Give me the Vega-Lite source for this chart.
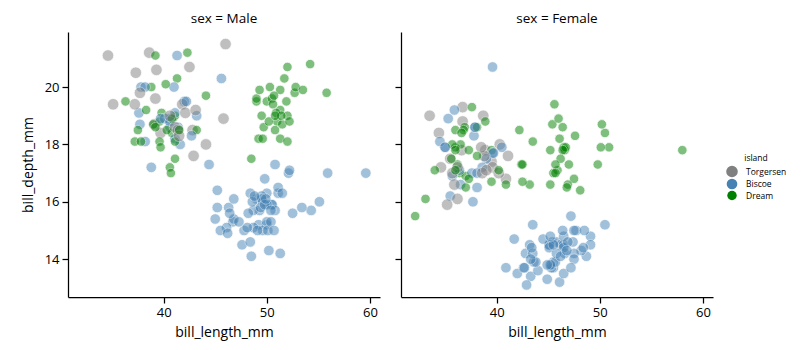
{
"$schema": "https://vega.github.io/schema/vega-lite/v6.json",
"background": "white",
"padding": {"left": 21, "top": 11, "right": 5, "bottom": 5},
"spacing": 21,
"bounds": "flush",
"data": {"values": [
{"island":"Torgersen","sex":"Male","bill_length_mm":39.1,"bill_depth_mm":18.7},
{"island":"Torgersen","sex":"Female","bill_length_mm":39.5,"bill_depth_mm":17.4},
{"island":"Torgersen","sex":"Female","bill_length_mm":40.3,"bill_depth_mm":18.0},
{"island":"Torgersen","sex":"Female","bill_length_mm":36.7,"bill_depth_mm":19.3},
{"island":"Torgersen","sex":"Male","bill_length_mm":39.3,"bill_depth_mm":20.6},
{"island":"Torgersen","sex":"Female","bill_length_mm":38.9,"bill_depth_mm":17.8},
{"island":"Torgersen","sex":"Male","bill_length_mm":39.2,"bill_depth_mm":19.6},
{"island":"Torgersen","sex":"Female","bill_length_mm":41.1,"bill_depth_mm":17.6},
{"island":"Torgersen","sex":"Male","bill_length_mm":38.6,"bill_depth_mm":21.2},
{"island":"Torgersen","sex":"Male","bill_length_mm":34.6,"bill_depth_mm":21.1},
{"island":"Torgersen","sex":"Female","bill_length_mm":36.6,"bill_depth_mm":17.8},
{"island":"Torgersen","sex":"Female","bill_length_mm":38.7,"bill_depth_mm":19.0},
{"island":"Torgersen","sex":"Male","bill_length_mm":42.5,"bill_depth_mm":20.7},
{"island":"Torgersen","sex":"Female","bill_length_mm":34.4,"bill_depth_mm":18.4},
{"island":"Torgersen","sex":"Male","bill_length_mm":46.0,"bill_depth_mm":21.5},
{"island":"Biscoe","sex":"Female","bill_length_mm":37.8,"bill_depth_mm":18.3},
{"island":"Biscoe","sex":"Male","bill_length_mm":37.7,"bill_depth_mm":18.7},
{"island":"Biscoe","sex":"Female","bill_length_mm":35.9,"bill_depth_mm":19.2},
{"island":"Biscoe","sex":"Male","bill_length_mm":38.2,"bill_depth_mm":18.1},
{"island":"Biscoe","sex":"Male","bill_length_mm":38.8,"bill_depth_mm":17.2},
{"island":"Biscoe","sex":"Female","bill_length_mm":35.3,"bill_depth_mm":18.9},
{"island":"Biscoe","sex":"Male","bill_length_mm":40.6,"bill_depth_mm":18.6},
{"island":"Biscoe","sex":"Female","bill_length_mm":40.5,"bill_depth_mm":17.9},
{"island":"Biscoe","sex":"Female","bill_length_mm":37.9,"bill_depth_mm":18.6},
{"island":"Biscoe","sex":"Male","bill_length_mm":40.5,"bill_depth_mm":18.9},
{"island":"Dream","sex":"Female","bill_length_mm":39.5,"bill_depth_mm":16.7},
{"island":"Dream","sex":"Male","bill_length_mm":37.2,"bill_depth_mm":18.1},
{"island":"Dream","sex":"Female","bill_length_mm":39.5,"bill_depth_mm":17.8},
{"island":"Dream","sex":"Male","bill_length_mm":40.9,"bill_depth_mm":18.9},
{"island":"Dream","sex":"Female","bill_length_mm":36.4,"bill_depth_mm":17.0},
{"island":"Dream","sex":"Male","bill_length_mm":39.2,"bill_depth_mm":21.1},
{"island":"Dream","sex":"Male","bill_length_mm":38.8,"bill_depth_mm":20.0},
{"island":"Dream","sex":"Female","bill_length_mm":42.2,"bill_depth_mm":18.5},
{"island":"Dream","sex":"Female","bill_length_mm":37.6,"bill_depth_mm":19.3},
{"island":"Dream","sex":"Male","bill_length_mm":39.8,"bill_depth_mm":19.1},
{"island":"Dream","sex":"Female","bill_length_mm":36.5,"bill_depth_mm":18.0},
{"island":"Dream","sex":"Male","bill_length_mm":40.8,"bill_depth_mm":18.4},
{"island":"Dream","sex":"Female","bill_length_mm":36.0,"bill_depth_mm":18.5},
{"island":"Dream","sex":"Male","bill_length_mm":44.1,"bill_depth_mm":19.7},
{"island":"Dream","sex":"Female","bill_length_mm":37.0,"bill_depth_mm":16.9},
{"island":"Dream","sex":"Male","bill_length_mm":39.6,"bill_depth_mm":18.8},
{"island":"Dream","sex":"Male","bill_length_mm":41.1,"bill_depth_mm":19.0},
{"island":"Dream","sex":"Female","bill_length_mm":36.0,"bill_depth_mm":17.9},
{"island":"Dream","sex":"Male","bill_length_mm":42.3,"bill_depth_mm":21.2},
{"island":"Biscoe","sex":"Female","bill_length_mm":39.6,"bill_depth_mm":17.7},
{"island":"Biscoe","sex":"Male","bill_length_mm":40.1,"bill_depth_mm":18.9},
{"island":"Biscoe","sex":"Female","bill_length_mm":35.0,"bill_depth_mm":17.9},
{"island":"Biscoe","sex":"Male","bill_length_mm":42.0,"bill_depth_mm":19.5},
{"island":"Biscoe","sex":"Female","bill_length_mm":34.5,"bill_depth_mm":18.1},
{"island":"Biscoe","sex":"Male","bill_length_mm":41.4,"bill_depth_mm":18.6},
{"island":"Biscoe","sex":"Female","bill_length_mm":39.0,"bill_depth_mm":17.5},
{"island":"Biscoe","sex":"Male","bill_length_mm":40.6,"bill_depth_mm":18.8},
{"island":"Biscoe","sex":"Female","bill_length_mm":36.5,"bill_depth_mm":16.6},
{"island":"Biscoe","sex":"Male","bill_length_mm":37.6,"bill_depth_mm":19.1},
{"island":"Biscoe","sex":"Female","bill_length_mm":35.7,"bill_depth_mm":16.9},
{"island":"Biscoe","sex":"Male","bill_length_mm":41.3,"bill_depth_mm":21.1},
{"island":"Biscoe","sex":"Female","bill_length_mm":37.6,"bill_depth_mm":17.0},
{"island":"Biscoe","sex":"Male","bill_length_mm":41.1,"bill_depth_mm":18.2},
{"island":"Biscoe","sex":"Female","bill_length_mm":36.4,"bill_depth_mm":17.1},
{"island":"Biscoe","sex":"Male","bill_length_mm":41.6,"bill_depth_mm":18.0},
{"island":"Biscoe","sex":"Female","bill_length_mm":35.5,"bill_depth_mm":16.2},
{"island":"Biscoe","sex":"Male","bill_length_mm":41.1,"bill_depth_mm":19.1},
{"island":"Torgersen","sex":"Female","bill_length_mm":35.9,"bill_depth_mm":16.6},
{"island":"Torgersen","sex":"Male","bill_length_mm":41.8,"bill_depth_mm":19.4},
{"island":"Torgersen","sex":"Female","bill_length_mm":33.5,"bill_depth_mm":19.0},
{"island":"Torgersen","sex":"Male","bill_length_mm":39.7,"bill_depth_mm":18.4},
{"island":"Torgersen","sex":"Female","bill_length_mm":39.6,"bill_depth_mm":17.2},
{"island":"Torgersen","sex":"Male","bill_length_mm":45.8,"bill_depth_mm":18.9},
{"island":"Torgersen","sex":"Female","bill_length_mm":35.5,"bill_depth_mm":17.5},
{"island":"Torgersen","sex":"Male","bill_length_mm":42.8,"bill_depth_mm":18.5},
{"island":"Torgersen","sex":"Female","bill_length_mm":40.9,"bill_depth_mm":16.8},
{"island":"Torgersen","sex":"Male","bill_length_mm":37.2,"bill_depth_mm":19.4},
{"island":"Torgersen","sex":"Female","bill_length_mm":36.2,"bill_depth_mm":16.1},
{"island":"Torgersen","sex":"Male","bill_length_mm":42.1,"bill_depth_mm":19.1},
{"island":"Torgersen","sex":"Female","bill_length_mm":34.6,"bill_depth_mm":17.2},
{"island":"Torgersen","sex":"Male","bill_length_mm":42.9,"bill_depth_mm":17.6},
{"island":"Torgersen","sex":"Female","bill_length_mm":36.7,"bill_depth_mm":18.8},
{"island":"Torgersen","sex":"Male","bill_length_mm":35.1,"bill_depth_mm":19.4},
{"island":"Dream","sex":"Female","bill_length_mm":37.3,"bill_depth_mm":17.8},
{"island":"Dream","sex":"Male","bill_length_mm":41.3,"bill_depth_mm":20.3},
{"island":"Dream","sex":"Male","bill_length_mm":36.3,"bill_depth_mm":19.5},
{"island":"Dream","sex":"Female","bill_length_mm":36.9,"bill_depth_mm":18.6},
{"island":"Dream","sex":"Male","bill_length_mm":38.3,"bill_depth_mm":19.2},
{"island":"Dream","sex":"Female","bill_length_mm":38.9,"bill_depth_mm":18.8},
{"island":"Dream","sex":"Female","bill_length_mm":35.7,"bill_depth_mm":18.0},
{"island":"Dream","sex":"Male","bill_length_mm":41.1,"bill_depth_mm":18.1},
{"island":"Dream","sex":"Female","bill_length_mm":34.0,"bill_depth_mm":17.1},
{"island":"Dream","sex":"Male","bill_length_mm":39.6,"bill_depth_mm":18.1},
{"island":"Dream","sex":"Female","bill_length_mm":36.2,"bill_depth_mm":17.3},
{"island":"Dream","sex":"Male","bill_length_mm":40.8,"bill_depth_mm":18.9},
{"island":"Dream","sex":"Female","bill_length_mm":38.1,"bill_depth_mm":18.6},
{"island":"Dream","sex":"Male","bill_length_mm":40.3,"bill_depth_mm":18.5},
{"island":"Dream","sex":"Female","bill_length_mm":33.1,"bill_depth_mm":16.1},
{"island":"Dream","sex":"Male","bill_length_mm":43.2,"bill_depth_mm":18.5},
{"island":"Biscoe","sex":"Female","bill_length_mm":35.0,"bill_depth_mm":17.9},
{"island":"Biscoe","sex":"Male","bill_length_mm":41.0,"bill_depth_mm":20.0},
{"island":"Biscoe","sex":"Female","bill_length_mm":37.7,"bill_depth_mm":16.0},
{"island":"Biscoe","sex":"Male","bill_length_mm":37.8,"bill_depth_mm":20.0},
{"island":"Biscoe","sex":"Female","bill_length_mm":37.9,"bill_depth_mm":18.6},
{"island":"Biscoe","sex":"Male","bill_length_mm":39.7,"bill_depth_mm":18.9},
{"island":"Biscoe","sex":"Female","bill_length_mm":38.6,"bill_depth_mm":17.2},
{"island":"Biscoe","sex":"Male","bill_length_mm":38.2,"bill_depth_mm":20.0},
{"island":"Biscoe","sex":"Female","bill_length_mm":38.1,"bill_depth_mm":17.0},
{"island":"Biscoe","sex":"Male","bill_length_mm":43.2,"bill_depth_mm":19.0},
{"island":"Biscoe","sex":"Female","bill_length_mm":38.1,"bill_depth_mm":16.5},
{"island":"Biscoe","sex":"Male","bill_length_mm":45.6,"bill_depth_mm":20.3},
{"island":"Biscoe","sex":"Female","bill_length_mm":39.7,"bill_depth_mm":17.7},
{"island":"Biscoe","sex":"Male","bill_length_mm":42.2,"bill_depth_mm":19.5},
{"island":"Biscoe","sex":"Female","bill_length_mm":39.6,"bill_depth_mm":20.7},
{"island":"Biscoe","sex":"Male","bill_length_mm":42.7,"bill_depth_mm":18.3},
{"island":"Torgersen","sex":"Female","bill_length_mm":38.6,"bill_depth_mm":17.0},
{"island":"Torgersen","sex":"Male","bill_length_mm":37.3,"bill_depth_mm":20.5},
{"island":"Torgersen","sex":"Female","bill_length_mm":35.7,"bill_depth_mm":17.0},
{"island":"Torgersen","sex":"Male","bill_length_mm":41.1,"bill_depth_mm":18.6},
{"island":"Torgersen","sex":"Female","bill_length_mm":36.2,"bill_depth_mm":17.2},
{"island":"Torgersen","sex":"Male","bill_length_mm":37.7,"bill_depth_mm":19.8},
{"island":"Torgersen","sex":"Female","bill_length_mm":40.2,"bill_depth_mm":17.0},
{"island":"Torgersen","sex":"Male","bill_length_mm":41.4,"bill_depth_mm":18.5},
{"island":"Torgersen","sex":"Female","bill_length_mm":35.2,"bill_depth_mm":15.9},
{"island":"Torgersen","sex":"Male","bill_length_mm":40.6,"bill_depth_mm":19.0},
{"island":"Torgersen","sex":"Female","bill_length_mm":38.8,"bill_depth_mm":17.6},
{"island":"Torgersen","sex":"Male","bill_length_mm":41.5,"bill_depth_mm":18.3},
{"island":"Torgersen","sex":"Female","bill_length_mm":39.0,"bill_depth_mm":17.1},
{"island":"Torgersen","sex":"Male","bill_length_mm":44.1,"bill_depth_mm":18.0},
{"island":"Torgersen","sex":"Female","bill_length_mm":38.5,"bill_depth_mm":17.9},
{"island":"Torgersen","sex":"Male","bill_length_mm":43.1,"bill_depth_mm":19.2},
{"island":"Dream","sex":"Female","bill_length_mm":36.8,"bill_depth_mm":18.5},
{"island":"Dream","sex":"Male","bill_length_mm":37.5,"bill_depth_mm":18.5},
{"island":"Dream","sex":"Female","bill_length_mm":38.1,"bill_depth_mm":17.6},
{"island":"Dream","sex":"Male","bill_length_mm":41.1,"bill_depth_mm":17.5},
{"island":"Dream","sex":"Female","bill_length_mm":35.6,"bill_depth_mm":17.5},
{"island":"Dream","sex":"Male","bill_length_mm":40.2,"bill_depth_mm":20.1},
{"island":"Dream","sex":"Female","bill_length_mm":37.0,"bill_depth_mm":16.5},
{"island":"Dream","sex":"Male","bill_length_mm":39.7,"bill_depth_mm":17.9},
{"island":"Dream","sex":"Female","bill_length_mm":40.2,"bill_depth_mm":17.1},
{"island":"Dream","sex":"Male","bill_length_mm":40.6,"bill_depth_mm":17.2},
{"island":"Dream","sex":"Female","bill_length_mm":32.1,"bill_depth_mm":15.5},
{"island":"Dream","sex":"Male","bill_length_mm":40.7,"bill_depth_mm":17.0},
{"island":"Dream","sex":"Female","bill_length_mm":37.3,"bill_depth_mm":16.8},
{"island":"Dream","sex":"Male","bill_length_mm":39.0,"bill_depth_mm":18.7},
{"island":"Dream","sex":"Male","bill_length_mm":39.2,"bill_depth_mm":18.6},
{"island":"Dream","sex":"Female","bill_length_mm":36.6,"bill_depth_mm":18.4},
{"island":"Dream","sex":"Female","bill_length_mm":36.0,"bill_depth_mm":17.8},
{"island":"Dream","sex":"Male","bill_length_mm":37.8,"bill_depth_mm":18.1},
{"island":"Dream","sex":"Female","bill_length_mm":36.0,"bill_depth_mm":17.1},
{"island":"Dream","sex":"Male","bill_length_mm":41.5,"bill_depth_mm":18.5},
{"island":"Biscoe","sex":"Female","bill_length_mm":46.1,"bill_depth_mm":13.2},
{"island":"Biscoe","sex":"Male","bill_length_mm":50.0,"bill_depth_mm":16.3},
{"island":"Biscoe","sex":"Female","bill_length_mm":48.7,"bill_depth_mm":14.1},
{"island":"Biscoe","sex":"Male","bill_length_mm":50.0,"bill_depth_mm":15.2},
{"island":"Biscoe","sex":"Male","bill_length_mm":47.6,"bill_depth_mm":14.5},
{"island":"Biscoe","sex":"Female","bill_length_mm":46.5,"bill_depth_mm":13.5},
{"island":"Biscoe","sex":"Female","bill_length_mm":45.4,"bill_depth_mm":14.6},
{"island":"Biscoe","sex":"Male","bill_length_mm":46.7,"bill_depth_mm":15.3},
{"island":"Biscoe","sex":"Female","bill_length_mm":43.3,"bill_depth_mm":13.4},
{"island":"Biscoe","sex":"Male","bill_length_mm":46.8,"bill_depth_mm":15.4},
{"island":"Biscoe","sex":"Female","bill_length_mm":40.9,"bill_depth_mm":13.7},
{"island":"Biscoe","sex":"Male","bill_length_mm":49.0,"bill_depth_mm":16.1},
{"island":"Biscoe","sex":"Female","bill_length_mm":45.5,"bill_depth_mm":13.7},
{"island":"Biscoe","sex":"Male","bill_length_mm":48.4,"bill_depth_mm":14.6},
{"island":"Biscoe","sex":"Female","bill_length_mm":45.8,"bill_depth_mm":14.6},
{"island":"Biscoe","sex":"Male","bill_length_mm":49.3,"bill_depth_mm":15.7},
{"island":"Biscoe","sex":"Female","bill_length_mm":42.0,"bill_depth_mm":13.5},
{"island":"Biscoe","sex":"Male","bill_length_mm":49.2,"bill_depth_mm":15.2},
{"island":"Biscoe","sex":"Female","bill_length_mm":46.2,"bill_depth_mm":14.5},
{"island":"Biscoe","sex":"Male","bill_length_mm":48.7,"bill_depth_mm":15.1},
{"island":"Biscoe","sex":"Male","bill_length_mm":50.2,"bill_depth_mm":14.3},
{"island":"Biscoe","sex":"Female","bill_length_mm":45.1,"bill_depth_mm":14.5},
{"island":"Biscoe","sex":"Female","bill_length_mm":46.5,"bill_depth_mm":14.5},
{"island":"Biscoe","sex":"Male","bill_length_mm":46.3,"bill_depth_mm":15.8},
{"island":"Biscoe","sex":"Female","bill_length_mm":42.9,"bill_depth_mm":13.1},
{"island":"Biscoe","sex":"Male","bill_length_mm":46.1,"bill_depth_mm":15.1},
{"island":"Biscoe","sex":"Male","bill_length_mm":47.8,"bill_depth_mm":15.0},
{"island":"Biscoe","sex":"Female","bill_length_mm":48.2,"bill_depth_mm":14.3},
{"island":"Biscoe","sex":"Male","bill_length_mm":50.0,"bill_depth_mm":15.3},
{"island":"Biscoe","sex":"Male","bill_length_mm":47.3,"bill_depth_mm":15.3},
{"island":"Biscoe","sex":"Female","bill_length_mm":42.8,"bill_depth_mm":14.2},
{"island":"Biscoe","sex":"Female","bill_length_mm":45.1,"bill_depth_mm":14.5},
{"island":"Biscoe","sex":"Male","bill_length_mm":59.6,"bill_depth_mm":17.0},
{"island":"Biscoe","sex":"Female","bill_length_mm":49.1,"bill_depth_mm":14.8},
{"island":"Biscoe","sex":"Male","bill_length_mm":48.4,"bill_depth_mm":16.3},
{"island":"Biscoe","sex":"Female","bill_length_mm":42.6,"bill_depth_mm":13.7},
{"island":"Biscoe","sex":"Male","bill_length_mm":44.4,"bill_depth_mm":17.3},
{"island":"Biscoe","sex":"Female","bill_length_mm":44.0,"bill_depth_mm":13.6},
{"island":"Biscoe","sex":"Male","bill_length_mm":48.7,"bill_depth_mm":15.7},
{"island":"Biscoe","sex":"Female","bill_length_mm":42.7,"bill_depth_mm":13.7},
{"island":"Biscoe","sex":"Male","bill_length_mm":49.6,"bill_depth_mm":16.0},
{"island":"Biscoe","sex":"Female","bill_length_mm":45.3,"bill_depth_mm":13.7},
{"island":"Biscoe","sex":"Male","bill_length_mm":49.6,"bill_depth_mm":15.0},
{"island":"Biscoe","sex":"Male","bill_length_mm":50.5,"bill_depth_mm":15.9},
{"island":"Biscoe","sex":"Female","bill_length_mm":43.6,"bill_depth_mm":13.9},
{"island":"Biscoe","sex":"Female","bill_length_mm":45.5,"bill_depth_mm":13.9},
{"island":"Biscoe","sex":"Male","bill_length_mm":50.5,"bill_depth_mm":15.9},
{"island":"Biscoe","sex":"Female","bill_length_mm":44.9,"bill_depth_mm":13.3},
{"island":"Biscoe","sex":"Male","bill_length_mm":45.2,"bill_depth_mm":15.8},
{"island":"Biscoe","sex":"Female","bill_length_mm":46.6,"bill_depth_mm":14.2},
{"island":"Biscoe","sex":"Male","bill_length_mm":48.5,"bill_depth_mm":14.1},
{"island":"Biscoe","sex":"Female","bill_length_mm":45.1,"bill_depth_mm":14.4},
{"island":"Biscoe","sex":"Male","bill_length_mm":50.1,"bill_depth_mm":15.0},
{"island":"Biscoe","sex":"Female","bill_length_mm":46.5,"bill_depth_mm":14.4},
{"island":"Biscoe","sex":"Male","bill_length_mm":45.0,"bill_depth_mm":15.4},
{"island":"Biscoe","sex":"Female","bill_length_mm":43.8,"bill_depth_mm":13.9},
{"island":"Biscoe","sex":"Male","bill_length_mm":45.5,"bill_depth_mm":15.0},
{"island":"Biscoe","sex":"Female","bill_length_mm":43.2,"bill_depth_mm":14.5},
{"island":"Biscoe","sex":"Male","bill_length_mm":50.4,"bill_depth_mm":15.3},
{"island":"Biscoe","sex":"Female","bill_length_mm":45.3,"bill_depth_mm":13.8},
{"island":"Biscoe","sex":"Male","bill_length_mm":46.2,"bill_depth_mm":14.9},
{"island":"Biscoe","sex":"Female","bill_length_mm":45.7,"bill_depth_mm":13.9},
{"island":"Biscoe","sex":"Male","bill_length_mm":54.3,"bill_depth_mm":15.7},
{"island":"Biscoe","sex":"Female","bill_length_mm":45.8,"bill_depth_mm":14.2},
{"island":"Biscoe","sex":"Male","bill_length_mm":49.8,"bill_depth_mm":16.8},
{"island":"Biscoe","sex":"Male","bill_length_mm":49.5,"bill_depth_mm":16.2},
{"island":"Biscoe","sex":"Female","bill_length_mm":43.5,"bill_depth_mm":14.2},
{"island":"Biscoe","sex":"Male","bill_length_mm":50.7,"bill_depth_mm":15.0},
{"island":"Biscoe","sex":"Female","bill_length_mm":47.7,"bill_depth_mm":15.0},
{"island":"Biscoe","sex":"Male","bill_length_mm":46.4,"bill_depth_mm":15.6},
{"island":"Biscoe","sex":"Male","bill_length_mm":48.2,"bill_depth_mm":15.6},
{"island":"Biscoe","sex":"Female","bill_length_mm":46.5,"bill_depth_mm":14.8},
{"island":"Biscoe","sex":"Female","bill_length_mm":46.4,"bill_depth_mm":15.0},
{"island":"Biscoe","sex":"Male","bill_length_mm":48.6,"bill_depth_mm":16.0},
{"island":"Biscoe","sex":"Female","bill_length_mm":47.5,"bill_depth_mm":14.2},
{"island":"Biscoe","sex":"Male","bill_length_mm":51.1,"bill_depth_mm":16.3},
{"island":"Biscoe","sex":"Female","bill_length_mm":45.2,"bill_depth_mm":13.8},
{"island":"Biscoe","sex":"Male","bill_length_mm":45.2,"bill_depth_mm":16.4},
{"island":"Biscoe","sex":"Female","bill_length_mm":49.1,"bill_depth_mm":14.5},
{"island":"Biscoe","sex":"Male","bill_length_mm":52.5,"bill_depth_mm":15.6},
{"island":"Biscoe","sex":"Female","bill_length_mm":47.4,"bill_depth_mm":14.6},
{"island":"Biscoe","sex":"Male","bill_length_mm":50.0,"bill_depth_mm":15.9},
{"island":"Biscoe","sex":"Female","bill_length_mm":44.9,"bill_depth_mm":13.8},
{"island":"Biscoe","sex":"Male","bill_length_mm":50.8,"bill_depth_mm":17.3},
{"island":"Biscoe","sex":"Female","bill_length_mm":43.4,"bill_depth_mm":14.4},
{"island":"Biscoe","sex":"Male","bill_length_mm":51.3,"bill_depth_mm":14.2},
{"island":"Biscoe","sex":"Female","bill_length_mm":47.5,"bill_depth_mm":14.0},
{"island":"Biscoe","sex":"Male","bill_length_mm":52.1,"bill_depth_mm":17.0},
{"island":"Biscoe","sex":"Female","bill_length_mm":47.5,"bill_depth_mm":15.0},
{"island":"Biscoe","sex":"Male","bill_length_mm":52.2,"bill_depth_mm":17.1},
{"island":"Biscoe","sex":"Female","bill_length_mm":45.5,"bill_depth_mm":14.5},
{"island":"Biscoe","sex":"Male","bill_length_mm":49.5,"bill_depth_mm":16.1},
{"island":"Biscoe","sex":"Female","bill_length_mm":44.5,"bill_depth_mm":14.7},
{"island":"Biscoe","sex":"Male","bill_length_mm":50.8,"bill_depth_mm":15.7},
{"island":"Biscoe","sex":"Male","bill_length_mm":49.4,"bill_depth_mm":15.8},
{"island":"Biscoe","sex":"Female","bill_length_mm":46.9,"bill_depth_mm":14.6},
{"island":"Biscoe","sex":"Female","bill_length_mm":48.4,"bill_depth_mm":14.4},
{"island":"Biscoe","sex":"Male","bill_length_mm":51.1,"bill_depth_mm":16.5},
{"island":"Biscoe","sex":"Female","bill_length_mm":48.5,"bill_depth_mm":15.0},
{"island":"Biscoe","sex":"Male","bill_length_mm":55.9,"bill_depth_mm":17.0},
{"island":"Biscoe","sex":"Female","bill_length_mm":47.2,"bill_depth_mm":15.5},
{"island":"Biscoe","sex":"Male","bill_length_mm":49.1,"bill_depth_mm":15.0},
{"island":"Biscoe","sex":"Male","bill_length_mm":46.8,"bill_depth_mm":16.1},
{"island":"Biscoe","sex":"Female","bill_length_mm":41.7,"bill_depth_mm":14.7},
{"island":"Biscoe","sex":"Male","bill_length_mm":53.4,"bill_depth_mm":15.8},
{"island":"Biscoe","sex":"Female","bill_length_mm":43.3,"bill_depth_mm":14.0},
{"island":"Biscoe","sex":"Male","bill_length_mm":48.1,"bill_depth_mm":15.1},
{"island":"Biscoe","sex":"Female","bill_length_mm":50.5,"bill_depth_mm":15.2},
{"island":"Biscoe","sex":"Male","bill_length_mm":49.8,"bill_depth_mm":15.9},
{"island":"Biscoe","sex":"Female","bill_length_mm":43.5,"bill_depth_mm":15.2},
{"island":"Biscoe","sex":"Male","bill_length_mm":51.5,"bill_depth_mm":16.3},
{"island":"Biscoe","sex":"Female","bill_length_mm":46.2,"bill_depth_mm":14.1},
{"island":"Biscoe","sex":"Male","bill_length_mm":55.1,"bill_depth_mm":16.0},
{"island":"Biscoe","sex":"Male","bill_length_mm":48.8,"bill_depth_mm":16.2},
{"island":"Biscoe","sex":"Female","bill_length_mm":47.2,"bill_depth_mm":13.7},
{"island":"Biscoe","sex":"Female","bill_length_mm":46.8,"bill_depth_mm":14.3},
{"island":"Biscoe","sex":"Male","bill_length_mm":50.4,"bill_depth_mm":15.7},
{"island":"Biscoe","sex":"Female","bill_length_mm":45.2,"bill_depth_mm":14.8},
{"island":"Biscoe","sex":"Male","bill_length_mm":49.9,"bill_depth_mm":16.1},
{"island":"Dream","sex":"Female","bill_length_mm":46.5,"bill_depth_mm":17.9},
{"island":"Dream","sex":"Male","bill_length_mm":50.0,"bill_depth_mm":19.5},
{"island":"Dream","sex":"Male","bill_length_mm":51.3,"bill_depth_mm":19.2},
{"island":"Dream","sex":"Female","bill_length_mm":45.4,"bill_depth_mm":18.7},
{"island":"Dream","sex":"Male","bill_length_mm":52.7,"bill_depth_mm":19.8},
{"island":"Dream","sex":"Female","bill_length_mm":45.2,"bill_depth_mm":17.8},
{"island":"Dream","sex":"Female","bill_length_mm":46.1,"bill_depth_mm":18.2},
{"island":"Dream","sex":"Male","bill_length_mm":51.3,"bill_depth_mm":18.2},
{"island":"Dream","sex":"Female","bill_length_mm":46.0,"bill_depth_mm":18.9},
{"island":"Dream","sex":"Male","bill_length_mm":51.3,"bill_depth_mm":19.9},
{"island":"Dream","sex":"Female","bill_length_mm":46.6,"bill_depth_mm":17.8},
{"island":"Dream","sex":"Male","bill_length_mm":51.7,"bill_depth_mm":20.3},
{"island":"Dream","sex":"Female","bill_length_mm":47.0,"bill_depth_mm":17.3},
{"island":"Dream","sex":"Male","bill_length_mm":52.0,"bill_depth_mm":18.1},
{"island":"Dream","sex":"Female","bill_length_mm":45.9,"bill_depth_mm":17.1},
{"island":"Dream","sex":"Male","bill_length_mm":50.5,"bill_depth_mm":19.6},
{"island":"Dream","sex":"Male","bill_length_mm":50.3,"bill_depth_mm":20.0},
{"island":"Dream","sex":"Female","bill_length_mm":58.0,"bill_depth_mm":17.8},
{"island":"Dream","sex":"Female","bill_length_mm":46.4,"bill_depth_mm":18.6},
{"island":"Dream","sex":"Male","bill_length_mm":49.2,"bill_depth_mm":18.2},
{"island":"Dream","sex":"Female","bill_length_mm":42.4,"bill_depth_mm":17.3},
{"island":"Dream","sex":"Male","bill_length_mm":48.5,"bill_depth_mm":17.5},
{"island":"Dream","sex":"Female","bill_length_mm":43.2,"bill_depth_mm":16.6},
{"island":"Dream","sex":"Male","bill_length_mm":50.6,"bill_depth_mm":19.4},
{"island":"Dream","sex":"Female","bill_length_mm":46.7,"bill_depth_mm":17.9},
{"island":"Dream","sex":"Male","bill_length_mm":52.0,"bill_depth_mm":19.0},
{"island":"Dream","sex":"Female","bill_length_mm":50.5,"bill_depth_mm":18.4},
{"island":"Dream","sex":"Male","bill_length_mm":49.5,"bill_depth_mm":19.0},
{"island":"Dream","sex":"Female","bill_length_mm":46.4,"bill_depth_mm":17.8},
{"island":"Dream","sex":"Male","bill_length_mm":52.8,"bill_depth_mm":20.0},
{"island":"Dream","sex":"Female","bill_length_mm":40.9,"bill_depth_mm":16.6},
{"island":"Dream","sex":"Male","bill_length_mm":54.2,"bill_depth_mm":20.8},
{"island":"Dream","sex":"Female","bill_length_mm":42.5,"bill_depth_mm":16.7},
{"island":"Dream","sex":"Male","bill_length_mm":51.0,"bill_depth_mm":18.8},
{"island":"Dream","sex":"Male","bill_length_mm":49.7,"bill_depth_mm":18.6},
{"island":"Dream","sex":"Female","bill_length_mm":47.5,"bill_depth_mm":16.8},
{"island":"Dream","sex":"Female","bill_length_mm":47.6,"bill_depth_mm":18.3},
{"island":"Dream","sex":"Male","bill_length_mm":52.0,"bill_depth_mm":20.7},
{"island":"Dream","sex":"Female","bill_length_mm":46.9,"bill_depth_mm":16.6},
{"island":"Dream","sex":"Male","bill_length_mm":53.5,"bill_depth_mm":19.9},
{"island":"Dream","sex":"Male","bill_length_mm":49.0,"bill_depth_mm":19.5},
{"island":"Dream","sex":"Female","bill_length_mm":46.2,"bill_depth_mm":17.5},
{"island":"Dream","sex":"Male","bill_length_mm":50.9,"bill_depth_mm":19.1},
{"island":"Dream","sex":"Female","bill_length_mm":45.5,"bill_depth_mm":17.0},
{"island":"Dream","sex":"Female","bill_length_mm":50.9,"bill_depth_mm":17.9},
{"island":"Dream","sex":"Male","bill_length_mm":50.8,"bill_depth_mm":18.5},
{"island":"Dream","sex":"Female","bill_length_mm":50.1,"bill_depth_mm":17.9},
{"island":"Dream","sex":"Male","bill_length_mm":49.0,"bill_depth_mm":19.6},
{"island":"Dream","sex":"Male","bill_length_mm":51.5,"bill_depth_mm":18.7},
{"island":"Dream","sex":"Female","bill_length_mm":49.8,"bill_depth_mm":17.3},
{"island":"Dream","sex":"Female","bill_length_mm":48.1,"bill_depth_mm":16.4},
{"island":"Dream","sex":"Male","bill_length_mm":51.4,"bill_depth_mm":19.0},
{"island":"Dream","sex":"Female","bill_length_mm":45.7,"bill_depth_mm":17.3},
{"island":"Dream","sex":"Male","bill_length_mm":50.7,"bill_depth_mm":19.7},
{"island":"Dream","sex":"Female","bill_length_mm":42.5,"bill_depth_mm":17.3},
{"island":"Dream","sex":"Male","bill_length_mm":52.2,"bill_depth_mm":18.8},
{"island":"Dream","sex":"Female","bill_length_mm":45.2,"bill_depth_mm":16.6},
{"island":"Dream","sex":"Male","bill_length_mm":49.3,"bill_depth_mm":19.9},
{"island":"Dream","sex":"Male","bill_length_mm":50.2,"bill_depth_mm":18.8},
{"island":"Dream","sex":"Female","bill_length_mm":45.6,"bill_depth_mm":19.4},
{"island":"Dream","sex":"Male","bill_length_mm":51.9,"bill_depth_mm":19.5},
{"island":"Dream","sex":"Female","bill_length_mm":46.8,"bill_depth_mm":16.5},
{"island":"Dream","sex":"Female","bill_length_mm":45.7,"bill_depth_mm":17.0},
{"island":"Dream","sex":"Male","bill_length_mm":55.8,"bill_depth_mm":19.8},
{"island":"Dream","sex":"Female","bill_length_mm":43.5,"bill_depth_mm":18.1},
{"island":"Dream","sex":"Male","bill_length_mm":49.6,"bill_depth_mm":18.2},
{"island":"Dream","sex":"Male","bill_length_mm":50.8,"bill_depth_mm":19.0},
{"island":"Dream","sex":"Female","bill_length_mm":50.2,"bill_depth_mm":18.7}
]},
"hconcat": [
{
"title": "sex = Male",
"width": 312, "height": 265,
"transform": [{"filter": "datum.sex === 'Male'"}],
"mark": {"type": "circle", "opacity": 0.5, "stroke": "white", "strokeWidth": 0.75},
"encoding": {
"x": {"field": "bill_length_mm", "type": "quantitative", "scale": {"domain": [30.725, 60.975], "nice": false, "zero": false}, "axis": {"values": [40, 50, 60], "title": "bill_length_mm"}},
"y": {"field": "bill_depth_mm", "type": "quantitative", "scale": {"domain": [12.68, 21.92], "nice": false, "zero": false}, "axis": {"values": [14, 16, 18, 20], "title": "bill_depth_mm"}},
"color": {"field": "island", "type": "nominal", "scale": {"domain": ["Torgersen", "Biscoe", "Dream"], "range": ["#808080", "#4682b4", "#008000"]}, "legend": {"title": "island", "orient": "none", "legendX": 658, "legendY": 122}},
"size": {"field": "island", "type": "nominal", "scale": {"domain": ["Torgersen", "Biscoe", "Dream"], "range": [135, 90, 42]}, "legend": {"title": "island", "orient": "none", "legendX": 658, "legendY": 122}}
}
},
{
"title": "sex = Female",
"width": 312, "height": 265,
"transform": [{"filter": "datum.sex === 'Female'"}],
"mark": {"type": "circle", "opacity": 0.5, "stroke": "white", "strokeWidth": 0.75},
"encoding": {
"x": {"field": "bill_length_mm", "type": "quantitative", "scale": {"domain": [30.725, 60.975], "nice": false, "zero": false}, "axis": {"values": [40, 50, 60], "title": "bill_length_mm"}},
"y": {"field": "bill_depth_mm", "type": "quantitative", "scale": {"domain": [12.68, 21.92], "nice": false, "zero": false}, "axis": {"values": [14, 16, 18, 20], "title": null, "labels": false}},
"color": {"field": "island", "type": "nominal", "scale": {"domain": ["Torgersen", "Biscoe", "Dream"], "range": ["#808080", "#4682b4", "#008000"]}, "legend": {"title": "island", "orient": "none", "legendX": 658, "legendY": 122}},
"size": {"field": "island", "type": "nominal", "scale": {"domain": ["Torgersen", "Biscoe", "Dream"], "range": [135, 90, 42]}, "legend": {"title": "island", "orient": "none", "legendX": 658, "legendY": 122}}
}
}
],
"config": {
"font": "Open Sans",
"view": {"stroke": null},
"axis": {"grid": false, "domainColor": "black", "domainWidth": 1.25, "tickColor": "black", "tickWidth": 1.25, "tickSize": 6, "labelFont": "Open Sans", "labelFontSize": 13, "labelColor": "black", "labelPadding": 3, "titleFont": "Open Sans", "titleFontSize": 14, "titleFontWeight": "normal", "titleColor": "black"},
"axisX": {"titlePadding": 6},
"axisY": {"titlePadding": 9},
"title": {"font": "Open Sans", "fontSize": 13.5, "fontWeight": "normal", "color": "black", "offset": 7},
"legend": {"titleFont": "Open Sans", "labelFont": "Open Sans", "titleFontSize": 8.5, "titleFontWeight": "normal", "labelFontSize": 8.5, "titleColor": "black", "labelColor": "black", "titleAnchor": "middle", "symbolOpacity": 1, "symbolStrokeWidth": 0, "rowPadding": 1, "labelOffset": 8, "titlePadding": 3, "symbolType": "circle"}
}
}
